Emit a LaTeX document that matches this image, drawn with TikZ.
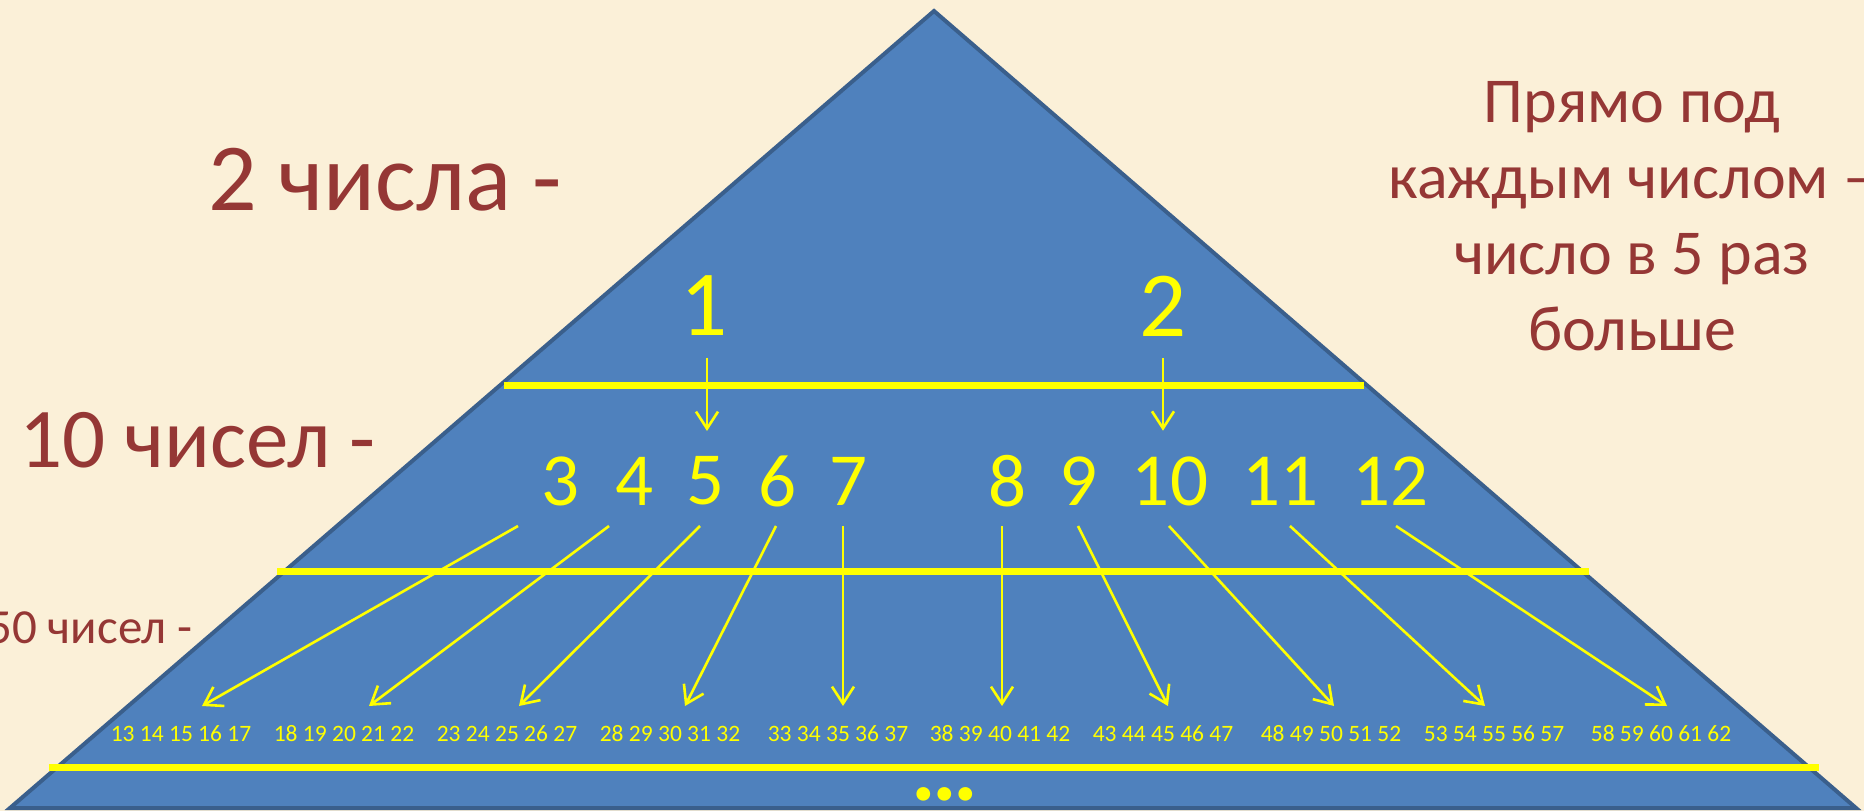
\documentclass[tikz,border=0pt]{standalone}
\usepackage{fontspec}
\setmainfont{Carlito}
\usetikzlibrary{arrows.meta,calc}
\definecolor{bg}{HTML}{FBF0D8}
\definecolor{tri}{HTML}{4F81BD}
\definecolor{triedge}{HTML}{3A5F8C}
\definecolor{txtred}{HTML}{953735}
\definecolor{yel}{HTML}{FFFF00}
\begin{document}
\begin{tikzpicture}[x=1pt,y=-1pt,
  ylevel/.style={draw=yel,line width=7pt},
  arr/.style={draw=yel,line width=2.6pt,-{Straight Barb[length=17pt,width=22pt,line width=2.6pt]}},
  bignum/.style={text=yel,inner sep=0pt,font=\fontsize{93}{93}\selectfont},
  midnum/.style={text=yel,inner sep=0pt,font=\fontsize{75}{75}\selectfont},
  smallnum/.style={text=yel,inner sep=0pt,font=\fontsize{23.5}{23.5}\selectfont},
  sidetext/.style={text=txtred,inner sep=0pt},
]
\useasboundingbox (0,0) rectangle (1864,811);
\fill[bg] (0,0) rectangle (1864,811);
\clip (0,0) rectangle (1864,811);

% pyramid
\draw[fill=tri,draw=triedge,line width=4pt,line join=miter] (934,11) -- (1856,808) -- (10,808) -- cycle;

% level lines
\draw[ylevel] (504,385) -- (1364,385);
\draw[ylevel] (277,571) -- (1589,571);
\draw[ylevel] (49,767) -- (1819,767);

% side texts
\node[sidetext,anchor=base west,font=\fontsize{96}{96}\selectfont] (t2) at (208,210) {2 числа -};
\node[sidetext,anchor=base west,font=\fontsize{85}{85}\selectfont] (t10) at (19,467) {10 чисел -};
\node[sidetext,anchor=base east,font=\fontsize{49}{49}\selectfont] (t50) at (193,643) {50 чисел -};
\node[sidetext,anchor=north,align=center,font=\fontsize{64}{76}\selectfont] (rule) at (1632,81)
  {Прямо под\\каждым числом –\\число в 5 раз\\больше};

% top level
\node[bignum] (n1) at (704,306) {1};
\node[bignum] (n2) at (1163,306) {2};

% second level
\node[midnum] (n3) at (561,481) {3};
\node[midnum] (n4) at (634,481) {4};
\node[midnum] (n5) at (705,481) {5};
\node[midnum] (n6) at (777,481) {6};
\node[midnum] (n7) at (848,481) {7};
\node[midnum] (n8) at (1007,481) {8};
\node[midnum] (n9) at (1078,481) {9};
\node[midnum] (n10) at (1170,481) {10};
\node[midnum] (n11) at (1280,481) {11};
\node[midnum] (n12) at (1390,481) {12};

% third level
\node[smallnum] (g1) at (181,734) {13 14 15 16 17};
\node[smallnum] (g2) at (344,734) {18 19 20 21 22};
\node[smallnum] (g3) at (507,734) {23 24 25 26 27};
\node[smallnum] (g4) at (670,734) {28 29 30 31 32};
\node[smallnum] (g5) at (838,734) {33 34 35 36 37};
\node[smallnum] (g6) at (1000,734) {38 39 40 41 42};
\node[smallnum] (g7) at (1163,734) {43 44 45 46 47};
\node[smallnum] (g8) at (1331,734) {48 49 50 51 52};
\node[smallnum] (g9) at (1494,734) {53 54 55 56 57};
\node[smallnum] (g10) at (1661,734) {58 59 60 61 62};

\node[text=yel,inner sep=0pt,font=\fontsize{92}{92}\selectfont\bfseries] (dots) at (945,794) {.\kern-3.5pt.\kern-3.5pt.};

% arrows level 1 -> 2
\draw[arr] ($(n1.south)+(3,21.5)$) -- ($(n5.north)+(2,-25.5)$);
\draw[arr] ($(n2.south)+(0,21.5)$) -- ($(n10.north)+(-7,-25.5)$);

% arrows level 2 -> 3
\draw[arr] ($(n3)+(-43,45)$) -- ($(g1)+(21,-28)$);
\draw[arr] ($(n4)+(-25,45)$) -- ($(g2)+(25,-28)$);
\draw[arr] ($(n5)+(-5,45)$) -- ($(g3)+(12,-28)$);
\draw[arr] ($(n6)+(-1,45)$) -- ($(g4)+(15,-28)$);
\draw[arr] ($(n7)+(-5,45)$) -- ($(g5)+(5,-28)$);
\draw[arr] ($(n8)+(-5,45)$) -- ($(g6)+(2,-28)$);
\draw[arr] ($(n9)+(0,45)$) -- ($(g7)+(5,-28)$);
\draw[arr] ($(n10)+(-1,45)$) -- ($(g8)+(3,-28)$);
\draw[arr] ($(n11)+(10,45)$) -- ($(g9)+(-9,-28)$);
\draw[arr] ($(n12)+(6,45)$) -- ($(g10)+(6,-28)$);
\end{tikzpicture}
\end{document}
